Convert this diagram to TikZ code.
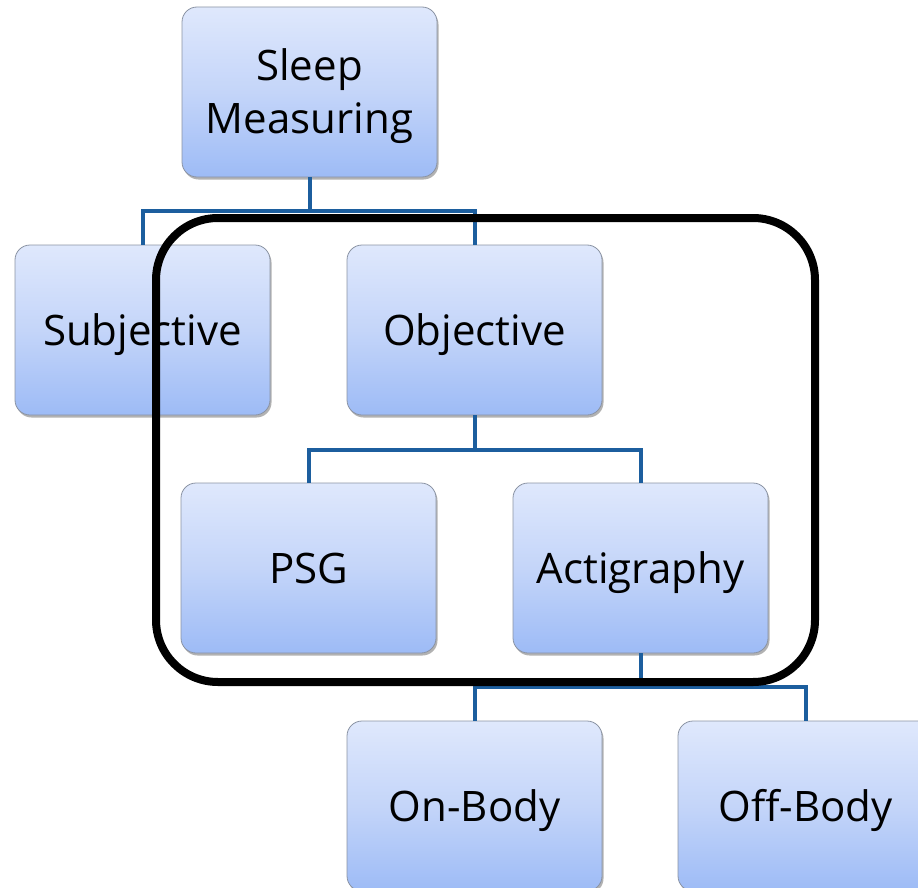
\documentclass[tikz,border=0pt]{standalone}
\usepackage{fontspec}
\setmainfont{Open Sans}
\usetikzlibrary{shadows}
\definecolor{boxtop}{HTML}{DFE8FC}
\definecolor{boxmid}{HTML}{C4D5F9}
\definecolor{boxbot}{HTML}{9DBBF6}
\definecolor{boxedge}{HTML}{8A93A3}
\definecolor{linkblue}{HTML}{1C5E9E}
\tikzset{
  catbox/.style={rectangle, rounded corners=15pt, minimum width=255pt,
    minimum height=170pt, draw=boxedge, line width=0.8pt,
    top color=boxtop, bottom color=boxbot, middle color=boxmid,
    drop shadow={shadow xshift=1.5pt, shadow yshift=-2.5pt, opacity=0.3, fill=black},
    font=\fontsize{42}{53}\selectfont, align=center, text=black, inner sep=0pt,
    text height=30pt, text depth=0pt},
  twoline/.style={text height=83pt},
  link/.style={draw=linkblue, line width=4pt},
  frame/.style={draw=black, line width=8pt, rounded corners=62pt}
}
\begin{document}
\begin{tikzpicture}[x=1pt,y=-1pt]
\useasboundingbox (0,0) rectangle (918,888);
\clip (0,0) rectangle (918,888);
% junction points of the tree links
\coordinate (j0) at (309.5,211);
\coordinate (j1) at (474.5,450);
\coordinate (j2) at (640.5,687);
% boxes
\node[catbox, twoline] (sleep) at (309.5,92) {Sleep\\Measuring};
\node[catbox] (subj) at (142.5,330) {Subjective};
\node[catbox] (obj) at (474.5,330) {Objective};
\node[catbox] (psg) at (308.5,568) {PSG};
\node[catbox] (acti) at (640.5,568) {Actigraphy};
\node[catbox] (onb) at (474.5,806) {On-Body};
\node[catbox] (offb) at (805.5,806) {Off-Body};
% tree links
\draw[link] (sleep.south) -- (j0);
\draw[link] (subj.north) |- (j0) -| (obj.north);
\draw[link] (obj.south) -- (j1);
\draw[link] (psg.north) |- (j1) -| (acti.north);
\draw[link] (acti.south) -- (j2);
\draw[link] (onb.north) |- (j2) -| (offb.north);
% grouping frame around the objective branch
\draw[frame] (156,218) rectangle (815,682);
\end{tikzpicture}
\end{document}
